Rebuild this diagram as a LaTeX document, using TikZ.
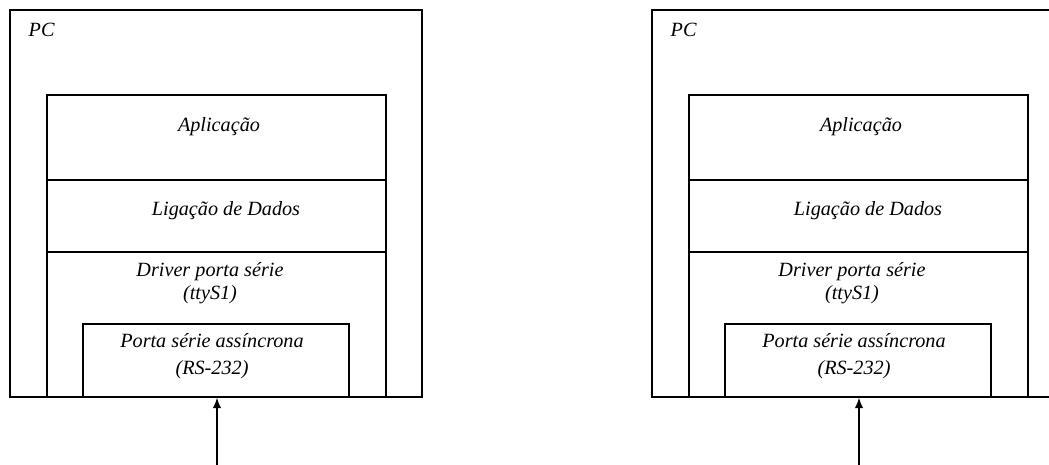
\documentclass[tikz,border=0pt]{standalone}
\usepackage{fontspec}
\setmainfont{Liberation Serif}
\usetikzlibrary{arrows.meta,positioning}

\begin{document}
\begin{tikzpicture}[line width=0.8pt,
  font=\fontsize{11.5}{14}\selectfont\itshape,
  layer/.style={draw, rectangle, inner sep=0pt, minimum width=6.78cm},
  txt/.style={align=center, inner sep=0pt}]
% Canvas
\useasboundingbox (0,0) rectangle (20.98,9.3);
\clip (0,0) rectangle (20.98,9.3);

% Two identical PC stacks
\foreach \dx/\s in {0/L, 12.84/R} {
  \begin{scope}[xshift=\dx cm]
  % Outer PC box
  \node[draw, minimum width=8.24cm, minimum height=7.74cm, inner sep=0pt] (pc\s) at (4.32,5.23) {};
  \node[anchor=west, inner sep=0pt] (pcname\s) at (0.56,8.7) {PC};

  % Protocol layers
  \node[layer, minimum height=1.7cm] (app\s) at (4.33,6.55) {};
  \node[layer, minimum height=1.44cm] (link\s) at (4.33,4.98) {};
  \node[layer, minimum height=2.9cm] (drv\s) at (4.33,2.81) {};

  % Serial port
  \node[draw, minimum width=5.32cm, minimum height=1.46cm, inner sep=0pt] (port\s) at (4.32,2.09) {};

  % Layer labels
  \node[txt] (apptext\s) at (4.38,6.76) {Aplicação};
  \node[txt] (linktext\s) at (4.52,5.08) {Ligação de Dados};
  \node[txt] (drvtext\s) at (4.20,3.63) {Driver porta série\\[-1pt](ttyS1)};
  \node[txt] (porttext\s) at (4.24,2.17) {Porta série assíncrona\\[1.5pt](RS-232)};

  % Incoming line
  \coordinate (in\s) at (4.34,-0.1);
  \draw[-{Latex[length=0.21cm,width=0.17cm]}] (in\s) -- (in\s |- port\s.south);
  \end{scope}
}
\end{tikzpicture}
\end{document}
